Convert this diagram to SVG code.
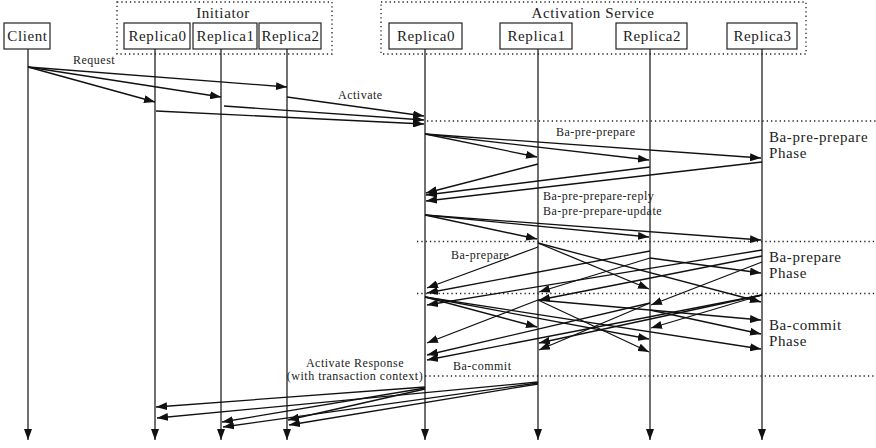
<svg xmlns="http://www.w3.org/2000/svg" width="876" height="448" viewBox="0 0 876 448">
<style>
.box{fill:#fff;stroke:#222;stroke-width:1.2}
.grp{fill:none;stroke:#222;stroke-width:1.3;stroke-dasharray:1.3 3}
.sep{fill:none;stroke:#222;stroke-width:1.3;stroke-dasharray:1.3 3}
.life{stroke:#222;stroke-width:1.3;fill:none}
.msg{stroke:#111;stroke-width:1.3;fill:none;marker-end:url(#ah)}
.nt{font-family:"Liberation Serif","Times New Roman",serif;font-size:15px;letter-spacing:0.6px;fill:#222;text-anchor:middle}
.gt{font-family:"Liberation Serif","Times New Roman",serif;font-size:15px;letter-spacing:0.6px;fill:#222;text-anchor:middle}
.ml{font-family:"Liberation Serif","Times New Roman",serif;font-size:12px;letter-spacing:0.5px;fill:#222}
.ph{font-family:"Liberation Serif","Times New Roman",serif;font-size:15px;letter-spacing:0.6px;fill:#222}
</style>
<defs>
<marker id="ah" markerWidth="11" markerHeight="8" refX="11" refY="4" orient="auto" markerUnits="userSpaceOnUse"><path d="M0,0 L11,4 L0,8 z" fill="#111"/></marker>
</defs>
<g id="groups">
<rect class="grp" x="117" y="2" width="215" height="52"/>
<text class="gt" x="223" y="18">Initiator</text>
<rect class="grp" x="381" y="2" width="425" height="52"/>
<text class="gt" x="593" y="18">Activation Service</text>
</g>
<g id="separators">
<line class="sep" x1="427" y1="121" x2="876" y2="121"/>
<line class="sep" x1="417" y1="241.5" x2="876" y2="241.5"/>
<line class="sep" x1="417" y1="293.5" x2="876" y2="293.5"/>
<line class="sep" x1="425" y1="376" x2="876" y2="376"/>
</g>
<g id="lifelines">
<line class="life" x1="28" y1="49" x2="28" y2="440" marker-end="url(#ah)"/>
<line class="life" x1="155" y1="49" x2="155" y2="440" marker-end="url(#ah)"/>
<line class="life" x1="221" y1="49" x2="221" y2="440" marker-end="url(#ah)"/>
<line class="life" x1="287" y1="49" x2="287" y2="440" marker-end="url(#ah)"/>
<line class="life" x1="425" y1="49" x2="425" y2="440" marker-end="url(#ah)"/>
<line class="life" x1="538" y1="49" x2="538" y2="440" marker-end="url(#ah)"/>
<line class="life" x1="650" y1="49" x2="650" y2="440" marker-end="url(#ah)"/>
<line class="life" x1="762" y1="49" x2="762" y2="440" marker-end="url(#ah)"/>
</g>
<g id="client"><rect class="box" x="4" y="23" width="46" height="26"/><text class="nt" x="27.5" y="41">Client</text></g>
<g id="init-replica0"><rect class="box" x="124" y="23" width="66" height="26"/><text class="nt" x="157.5" y="41">Replica0</text></g>
<g id="init-replica1"><rect class="box" x="193" y="23" width="64" height="26"/><text class="nt" x="225.5" y="41">Replica1</text></g>
<g id="init-replica2"><rect class="box" x="259" y="23" width="62" height="26"/><text class="nt" x="290.5" y="41">Replica2</text></g>
<g id="as-replica0"><rect class="box" x="389" y="23" width="73" height="26"/><text class="nt" x="426" y="41">Replica0</text></g>
<g id="as-replica1"><rect class="box" x="500" y="23" width="72" height="26"/><text class="nt" x="536.5" y="41">Replica1</text></g>
<g id="as-replica2"><rect class="box" x="616" y="23" width="71" height="26"/><text class="nt" x="652" y="41">Replica2</text></g>
<g id="as-replica3"><rect class="box" x="727" y="23" width="70" height="26"/><text class="nt" x="762.5" y="41">Replica3</text></g>
<g id="connectors">
<line class="msg" x1="28" y1="67" x2="155" y2="102"/>
<line class="msg" x1="28" y1="67" x2="221" y2="97"/>
<line class="msg" x1="28" y1="67" x2="287" y2="87"/>
<line class="msg" x1="287" y1="97" x2="424" y2="116"/>
<line class="msg" x1="224" y1="106" x2="424" y2="120"/>
<line class="msg" x1="156" y1="111" x2="424" y2="124"/>
<line class="msg" x1="425" y1="134" x2="537" y2="157"/>
<line class="msg" x1="425" y1="134" x2="649" y2="160"/>
<line class="msg" x1="425" y1="134" x2="761" y2="158"/>
<line class="msg" x1="538" y1="164" x2="426" y2="193"/>
<line class="msg" x1="650" y1="167" x2="426" y2="195"/>
<line class="msg" x1="762" y1="162" x2="426" y2="201"/>
<line class="msg" x1="425" y1="215" x2="537" y2="239"/>
<line class="msg" x1="425" y1="215" x2="649" y2="237"/>
<line class="msg" x1="425" y1="215" x2="761" y2="240"/>
<line class="msg" x1="538" y1="247" x2="427" y2="288"/>
<line class="msg" x1="538" y1="243" x2="649" y2="289"/>
<line class="msg" x1="538" y1="243" x2="761" y2="302"/>
<line class="msg" x1="650" y1="251" x2="427" y2="293"/>
<line class="msg" x1="650" y1="258" x2="761" y2="273"/>
<line class="msg" x1="650" y1="258" x2="539" y2="292"/>
<line class="msg" x1="762" y1="250" x2="427" y2="305"/>
<line class="msg" x1="762" y1="256" x2="539" y2="300"/>
<line class="msg" x1="762" y1="262" x2="651" y2="305"/>
<line class="msg" x1="425" y1="297" x2="537" y2="327"/>
<line class="msg" x1="425" y1="297" x2="649" y2="339"/>
<line class="msg" x1="425" y1="297" x2="761" y2="349"/>
<line class="msg" x1="538" y1="300" x2="427" y2="343"/>
<line class="msg" x1="538" y1="300" x2="649" y2="352"/>
<line class="msg" x1="538" y1="300" x2="761" y2="320"/>
<line class="msg" x1="650" y1="303" x2="427" y2="355"/>
<line class="msg" x1="650" y1="303" x2="539" y2="350"/>
<line class="msg" x1="650" y1="310" x2="761" y2="334"/>
<line class="msg" x1="762" y1="295" x2="427" y2="360"/>
<line class="msg" x1="762" y1="295" x2="539" y2="343"/>
<line class="msg" x1="762" y1="295" x2="651" y2="328"/>
<line class="msg" x1="425" y1="387" x2="156" y2="407"/>
<line class="msg" x1="425" y1="388" x2="222" y2="422"/>
<line class="msg" x1="425" y1="389" x2="288" y2="420"/>
<line class="msg" x1="538" y1="382" x2="157" y2="418"/>
<line class="msg" x1="538" y1="383" x2="223" y2="427"/>
<line class="msg" x1="538" y1="384" x2="289" y2="425"/>
</g>
<g id="labels">
<text class="ml" x="73" y="64">Request</text>
<text class="ml" x="338" y="99">Activate</text>
<text class="ml" x="556" y="136">Ba-pre-prepare</text>
<text class="ml" x="543" y="200">Ba-pre-prepare-reply</text>
<text class="ml" x="543" y="215">Ba-pre-prepare-update</text>
<text class="ml" x="451" y="259">Ba-prepare</text>
<text class="ml" x="355" y="367" text-anchor="middle">Activate Response</text>
<text class="ml" x="355" y="380" text-anchor="middle">(with transaction context)</text>
<text class="ml" x="453" y="370">Ba-commit</text>
<text class="ph" x="769" y="142">Ba-pre-prepare</text>
<text class="ph" x="769" y="158">Phase</text>
<text class="ph" x="769" y="262">Ba-prepare</text>
<text class="ph" x="769" y="278">Phase</text>
<text class="ph" x="769" y="330">Ba-commit</text>
<text class="ph" x="769" y="346">Phase</text>
</g>
</svg>
